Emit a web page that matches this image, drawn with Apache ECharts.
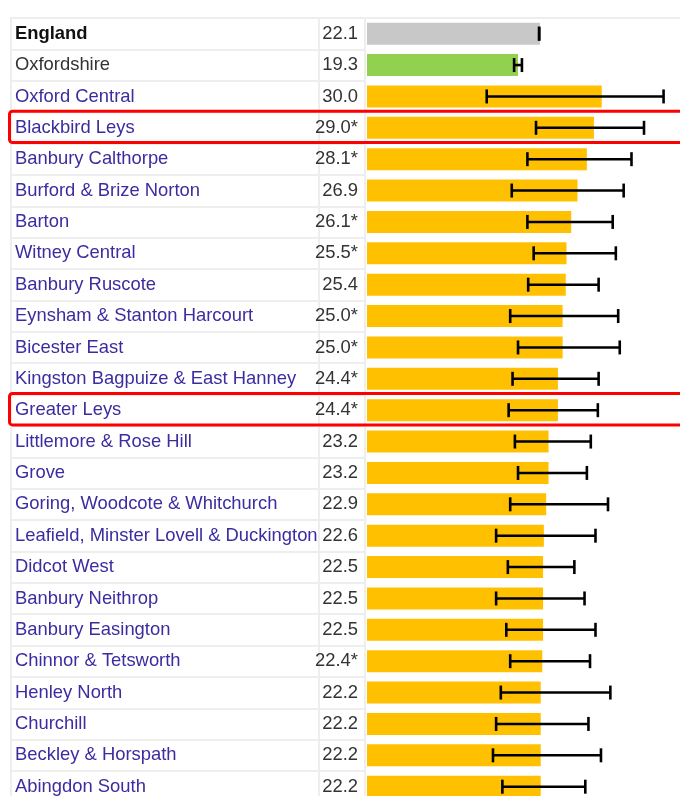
<!DOCTYPE html>
<html>
<head>
<meta charset="utf-8">
<script src="https://cdn.jsdelivr.net/npm/echarts@6/dist/echarts.min.js"></script>
<style>
html,body{margin:0;padding:0;background:#fff;overflow:hidden;}
#chart{width:680px;height:812px;}
</style>
</head>
<body>
<div id="chart"></div>
<script>
const categories = [
  'England', 'Oxfordshire', 'Oxford Central', 'Blackbird Leys', 'Banbury Calthorpe',
  'Burford & Brize Norton', 'Barton', 'Witney Central', 'Banbury Ruscote',
  'Eynsham & Stanton Harcourt', 'Bicester East', 'Kingston Bagpuize & East Hanney',
  'Greater Leys', 'Littlemore & Rose Hill', 'Grove', 'Goring, Woodcote & Whitchurch',
  'Leafield, Minster Lovell & Duckington', 'Didcot West', 'Banbury Neithrop',
  'Banbury Easington', 'Chinnor & Tetsworth', 'Henley North', 'Churchill',
  'Beckley & Horspath', 'Abingdon South'
];
const values = [22.1, 19.3, 30.0, 29.0, 28.1, 26.9, 26.1, 25.5, 25.4, 25.0, 25.0, 24.4, 24.4,
  23.2, 23.2, 22.9, 22.6, 22.5, 22.5, 22.5, 22.4, 22.2, 22.2, 22.2, 22.2];
const significant = [0, 0, 0, 1, 1, 0, 1, 1, 0, 1, 1, 1, 1, 0, 0, 0, 0, 0, 0, 0, 1, 0, 0, 0, 0];
const lowerCI = [22.0, 18.8, 15.3, 21.6, 20.5, 18.5, 20.5, 21.3, 20.6, 18.3, 19.3, 18.6, 18.1,
  18.9, 19.3, 18.3, 16.5, 18.0, 16.5, 17.8, 18.3, 17.1, 16.5, 16.1, 17.3];
const upperCI = [22.0, 19.8, 37.9, 35.4, 33.8, 32.8, 31.4, 31.8, 29.6, 32.1, 32.3, 29.6, 29.5,
  28.6, 28.1, 30.8, 29.2, 26.5, 27.8, 29.2, 28.5, 31.1, 28.3, 29.9, 27.9];
const areaType = ['england', 'county', 'ward', 'ward', 'ward', 'ward', 'ward', 'ward', 'ward',
  'ward', 'ward', 'ward', 'ward', 'ward', 'ward', 'ward', 'ward', 'ward', 'ward', 'ward', 'ward',
  'ward', 'ward', 'ward', 'ward'];
const highlighted = ['Blackbird Leys', 'Greater Leys'];

const barColors = { england: '#c8c8c8', county: '#92d050', ward: '#ffc000' };
const FONT = '"Liberation Sans", Arial, sans-serif';
const FS = 18.4;
const LINE = '#eeeeee';
const rowH = 31.375;
const gridH = rowH * categories.length;

const chart = echarts.init(document.getElementById('chart'), null, { renderer: 'canvas' });

const hiddenX = { type: 'value', show: false };
const tableY = (gi) => ({
  type: 'category', gridIndex: gi, inverse: true, data: categories,
  axisLine: { show: false }, axisTick: { show: false }, axisLabel: { show: false },
  splitLine: { show: true, interval: 0, lineStyle: { color: LINE, width: 2 } }
});

const option = {
  animation: false,
  backgroundColor: '#ffffff',
  grid: [
    { left: 11, top: 18, width: 308, height: gridH, show: true, borderColor: LINE, borderWidth: 2 },
    { left: 319, top: 18, width: 46, height: gridH, show: true, borderColor: LINE, borderWidth: 2 },
    { left: 367, top: 18, width: 40 * 7.865, height: gridH }
  ],
  xAxis: [
    Object.assign({ gridIndex: 0 }, hiddenX),
    Object.assign({ gridIndex: 1 }, hiddenX),
    {
      type: 'value', gridIndex: 2, min: 0, max: 40, position: 'top',
      axisLine: { show: true, lineStyle: { color: LINE, width: 2 } },
      axisTick: { show: false }, axisLabel: { show: false }, splitLine: { show: false }
    }
  ],
  yAxis: [
    tableY(0),
    tableY(1),
    {
      type: 'category', gridIndex: 2, inverse: true, data: categories,
      axisLine: { show: false }, axisTick: { show: false }, splitLine: { show: false },
      axisLabel: {
        interval: 0, margin: 9, fontFamily: FONT, fontSize: FS,
        formatter: function (name) {
          const i = categories.indexOf(name);
          const v = values[i].toFixed(1) + (significant[i] ? '*' : '');
          const style = areaType[i] === 'england' ? 'nb' : (areaType[i] === 'county' ? 'nc' : 'n');
          return '{' + style + '|' + name + '}{v|' + v + '}';
        },
        rich: {
          n: { width: 298, align: 'left', fontSize: FS, fontFamily: FONT, color: '#3b2ca0' },
          nb: { width: 298, align: 'left', fontSize: FS, fontFamily: FONT, color: '#111111', fontWeight: 'bold' },
          nc: { width: 298, align: 'left', fontSize: FS, fontFamily: FONT, color: '#333333' },
          v: { width: 45, align: 'right', fontSize: FS, fontFamily: FONT, color: '#333333' }
        }
      }
    }
  ],
  series: [
    {
      type: 'bar', xAxisIndex: 2, yAxisIndex: 2, barWidth: 22, silent: true,
      data: values.map((v, i) => ({ value: v, itemStyle: { color: barColors[areaType[i]] } }))
    },
    {
      type: 'custom', xAxisIndex: 2, yAxisIndex: 2, silent: true, clip: false, z: 5,
      encode: { x: [0, 2], y: 1 },
      data: lowerCI.map((lo, i) => [lo, i, upperCI[i]]),
      renderItem: function (params, api) {
        const a = api.coord([api.value(0), api.value(1)]);
        const b = api.coord([api.value(2), api.value(1)]);
        const cap = 7;
        const st = { stroke: '#000000', lineWidth: 2.6 };
        return {
          type: 'group',
          children: [
            { type: 'line', shape: { x1: a[0], y1: a[1], x2: b[0], y2: b[1] }, style: st },
            { type: 'line', shape: { x1: a[0], y1: a[1] - cap, x2: a[0], y2: a[1] + cap }, style: st },
            { type: 'line', shape: { x1: b[0], y1: b[1] - cap, x2: b[0], y2: b[1] + cap }, style: st }
          ]
        };
      }
    },
    {
      type: 'custom', xAxisIndex: 2, yAxisIndex: 2, silent: true, clip: false, z: 10,
      encode: { x: 0, y: 1 },
      data: highlighted.map(n => [0, categories.indexOf(n)]),
      renderItem: function (params, api) {
        const c = api.coord([0, api.value(1)]);
        const h = api.size([0, 1])[1];
        return {
          type: 'rect',
          shape: { x: 9.5, y: c[1] - h / 2 - 1, width: 720, height: h, r: 3 },
          style: { fill: 'none', stroke: '#ff0000', lineWidth: 3 }
        };
      }
    }
  ]
};
chart.setOption(option);
</script>
</body>
</html>
